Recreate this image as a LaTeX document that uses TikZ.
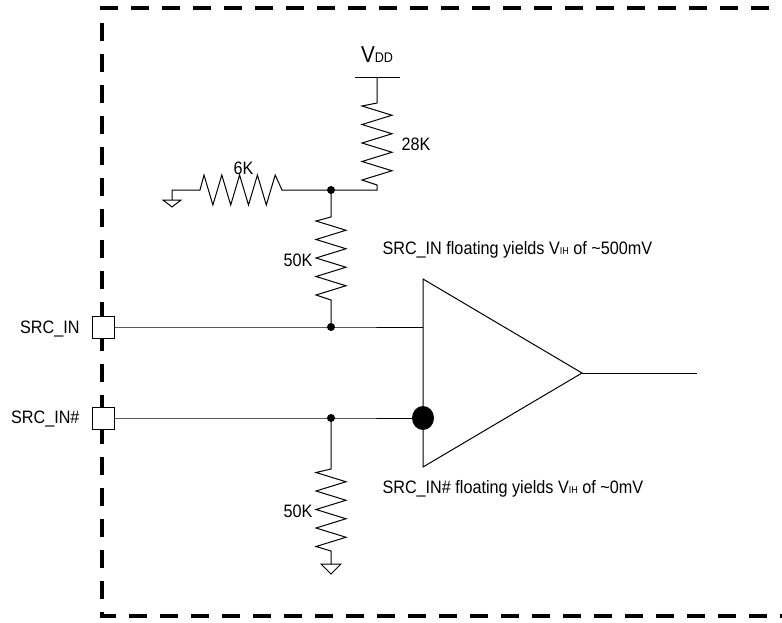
\documentclass[tikz,border=0pt]{standalone}
\usepackage{fontspec}
\setmainfont[FakeStretch=0.9]{Liberation Sans}
\begin{document}
\begin{tikzpicture}[x=1pt,y=-1pt, line width=1pt, line join=miter,
  pad/.style={draw, fill=white, minimum size=22pt, inner sep=0pt, line width=1pt},
  dot/.style={circle, fill, inner sep=0pt, minimum size=8pt},
  bigdot/.style={ellipse, fill, inner sep=0pt, minimum width=22pt, minimum height=24pt},
  lbl/.style={inner sep=0pt, font=\fontsize{18}{20}\selectfont},
  frame/.style={line width=3.2pt, dash pattern=on 18pt off 13pt},
  gnd/.style={line width=1pt}]
\useasboundingbox (0,0) rectangle (782,622);
% frame
\draw[frame] (800,8) -- (102,8) -- (102,616) -- (800,616);
% pads
\node[pad] (p1) at (103,327) {};
\node[pad] (p2) at (103,418) {};
\node[lbl, anchor=base east] (l1) at (80,333.5) {SRC\_IN};
\node[lbl, anchor=base east] (l2) at (80,423) {SRC\_IN\#};
% junctions
\node[dot] (j1) at (331,327) {};
\node[dot] (j2) at (331,418) {};
\node[dot] (j3) at (331,190) {};
% comparator
\coordinate (tA) at (423,279);
\coordinate (tB) at (423,467);
\coordinate (tC) at (582,373);
\coordinate (i1) at (423,327);
\coordinate (out) at (697,373);
\draw (tA) -- (tC) -- (tB) -- cycle;
\draw (tC) -- (out);
% input wires
\draw (p1.east) -- (j1.center) -- (i1);
\draw (p2.east) -- (j2.center) -- (423,418);
\fill (423,418) ellipse (11pt and 12pt);
\coordinate (bd) at (423,418);
% upper 50K
\draw (j3.center) -- (331,217)
  \foreach \k in {0,...,8} { -- ({331+15*(2*mod(\k,2)-1)}, {221+9.25*\k}) }
  -- (331,300) -- (j1.center);
\node[lbl, anchor=base east] (r50a) at (313,266) {50K};
% lower 50K
\coordinate (g2) at (331,564);
\draw (j2.center) -- (331,469)
  \foreach \k in {0,...,8} { -- ({331+15*(2*mod(\k,2)-1)}, {472.5+9.25*\k}) }
  -- (331,551) -- (g2);
\draw[gnd] (321,564) -- (341,564) -- (331,574) -- cycle;
\node[lbl, anchor=base east] (r50b) at (313,517) {50K};
% 28K and VDD
\coordinate (vdd) at (377,77);
\draw (355,77) -- (400,77);
\draw (vdd) -- (377,103)
  \foreach \k in {0,...,8} { -- ({377+15*(2*mod(\k,2)-1)}, {106+9.25*\k}) }
  -- (377,185) -- (377,190) -- (j3.center);
\node[lbl, anchor=base west] (r28) at (401,150) {28K};
\node[inner sep=0pt, anchor=base] (vddl) at (377,62) {\fontsize{23}{23}\selectfont V\fontsize{14}{14}\selectfont DD};
% 6K
\coordinate (g1) at (172,200);
\draw (g1) -- (172,190) -- (200,190)
  \foreach \k in {0,...,8} { -- ({204+8.9*\k}, {190+15*(2*mod(\k,2)-1)}) }
  -- (282,190) -- (j3.center);
\draw[gnd] (163,200) -- (181,200) -- (172,207) -- cycle;
\node[lbl, anchor=base] (r6) at (243.5,174) {6K};
% notes
\node[lbl, anchor=base west] (n1) at (382,254) {SRC\_IN floating yields V{\fontsize{10}{10}\selectfont IH} of \textasciitilde 500mV};
\node[lbl, anchor=base west] (n2) at (382,493) {SRC\_IN\# floating yields V{\fontsize{10}{10}\selectfont IH} of \textasciitilde 0mV};
\end{tikzpicture}
\end{document}
